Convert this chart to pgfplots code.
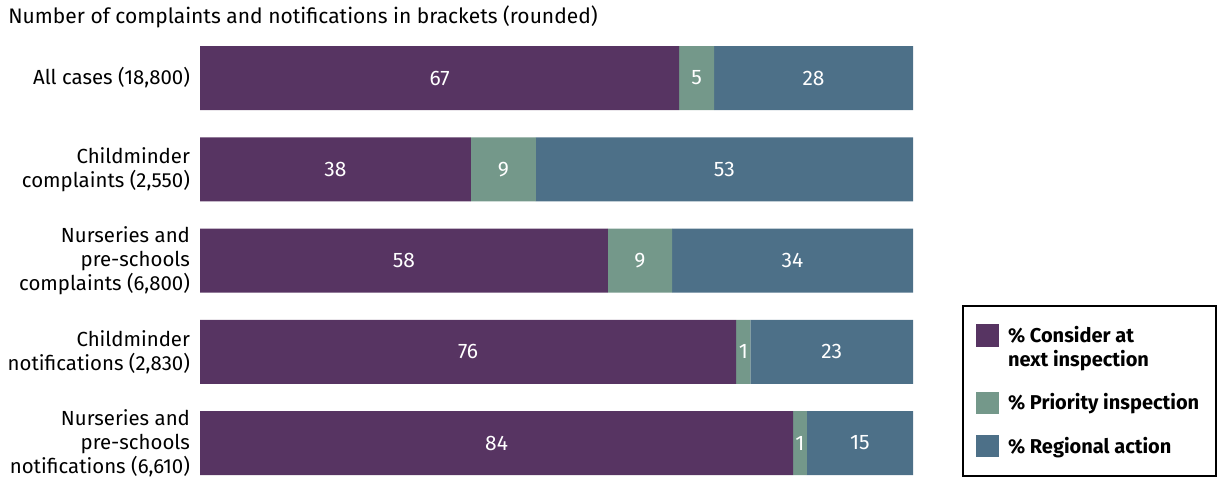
\documentclass[border=0pt]{standalone}
\usepackage{fontspec}
\setmainfont{Fira Sans}
\usepackage{pgfplots}
\usepackage{pgfplotstable}
\pgfplotsset{compat=1.18}
\definecolor{cPurple}{HTML}{573462}
\definecolor{cGreen}{HTML}{74988A}
\definecolor{cBlue}{HTML}{4D7088}

% shares (percent), labels as printed
\pgfplotstableread{
row a la b lb c lc
0 67.2 67 4.9 5 27.9 28
1 38.0 38 9.1 9 52.9 53
2 57.2 58 9.0 9 33.8 34
3 75.2 76 2.0 1 22.8 23
4 83.2 84 1.9 1 14.9 15
}\data

\begin{document}
\begin{tikzpicture}
\path[use as bounding box] (0,0) rectangle (609pt,-238.5pt);
\node[anchor=base west, inner sep=0pt, font=\fontsize{10.5}{12}\selectfont]
  at (4pt,-11.5pt) {Number of complaints and notifications in brackets (rounded)};
\begin{axis}[
  at={(100pt,-20.75pt)}, anchor=north west,
  scale only axis, width=356.5pt, height=219pt,
  xbar stacked, bar width=32pt,
  xmin=0, xmax=100, ymin=-0.4, ymax=4.4, y dir=reverse,
  axis line style={draw=none},
  major tick length=0pt,
  xtick=\empty,
  ytick={0,1,2,3,4},
  yticklabels={{All cases (18,800)},
    {Childminder\\complaints (2,550)},
    {Nurseries and\\pre-schools\\complaints (6,800)},
    {Childminder\\notifications (2,830)},
    {Nurseries and\\pre-schools\\notifications (6,610)}},
  yticklabel style={align=right, xshift=-1.5pt, font=\fontsize{10.2}{12}\selectfont},
  point meta=explicit symbolic,
  nodes near coords,
  nodes near coords style={text=white, font=\fontsize{10.5}{12}\selectfont},
  legend style={at={(1,0)}, anchor=south west, xshift=24.5pt, yshift=1.25pt,
    draw=black, line width=1pt, inner xsep=6.5pt, inner ysep=8pt,
    font=\bfseries\fontsize{10}{12}\selectfont, row sep=8pt,
    cells={anchor=west, align=left}},
]
\addplot[draw=none, fill=cPurple,
  legend image code/.code={\fill[cPurple] (0pt,0.5pt) rectangle (11.5pt,12pt);
    \path (14pt,0pt);}]
  table[x=a, y=row, meta=la] \data;
\addlegendentry{\% Consider at\\next inspection}
\addplot[draw=none, fill=cGreen,
  legend image code/.code={\fill[cGreen] (0pt,-5.5pt) rectangle (11.5pt,5.5pt);
    \path (14pt,0pt);}]
  table[x=b, y=row, meta=lb] \data;
\addlegendentry{\% Priority inspection}
\addplot[draw=none, fill=cBlue,
  legend image code/.code={\fill[cBlue] (0pt,-5.5pt) rectangle (11.5pt,5.5pt);
    \path (14pt,0pt);}]
  table[x=c, y=row, meta=lc] \data;
\addlegendentry{\% Regional action}
\end{axis}
\end{tikzpicture}
\end{document}
